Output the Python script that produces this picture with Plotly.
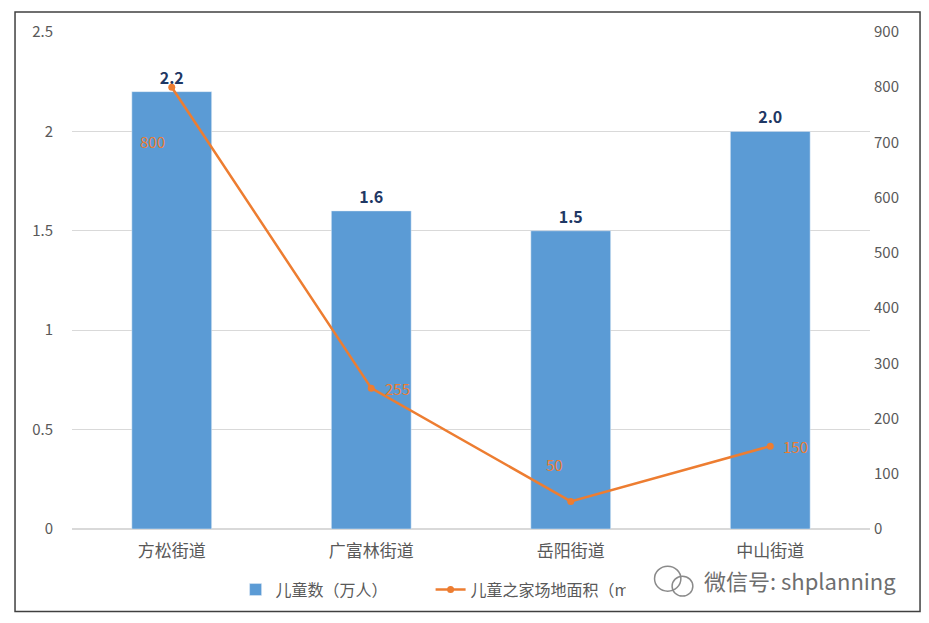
import plotly.graph_objects as go

streets = ['方松街道', '广富林街道', '岳阳街道', '中山街道']
children = [2.2, 1.6, 1.5, 2.0]
area = [800, 255, 50, 150]
left_ticks = [0, 0.5, 1, 1.5, 2, 2.5]
right_ticks = [0, 100, 200, 300, 400, 500, 600, 700, 800, 900]

# label offsets for the line values, in pixels (placement only)
label_dx = [-19, 26, -16, 25]
label_dy = [-54, 0, 37, 0]

font = 'Noto Sans CJK SC'
grey = '#595959'
blue = '#5B9BD5'
orange = '#ED7D31'

fig = go.Figure()
fig.add_trace(go.Bar(
    x=streets, y=children, name='儿童数（万人）', width=0.4,
    marker=dict(color=blue),
    text=['%.1f' % v for v in children], textposition='outside',
    textfont=dict(color='#1F3864', size=16, family=font),
    texttemplate='<b>%{text}</b>', cliponaxis=False,
))
fig.add_trace(go.Scatter(
    x=streets, y=area, name='儿童之家场地面积（m²）', yaxis='y2',
    mode='lines+markers', line=dict(color=orange, width=2.5),
    marker=dict(color=orange, size=7),
    cliponaxis=False,
))

notes = [dict(text='微信号: shplanning', xref='paper', yref='paper', x=0.912, y=-0.102,
              xanchor='center', yanchor='middle', showarrow=False,
              font=dict(size=22, color='#6e6e6e', family=font))]
for s, v, dx, dy in zip(streets, area, label_dx, label_dy):
    notes.append(dict(x=s, y=v, xref='x', yref='y2', text=str(v), showarrow=False,
                      xshift=dx, yshift=dy, font=dict(size=15, color=orange, family=font)))

fig.update_layout(
    width=913, height=615,
    margin=dict(l=64, r=51, t=22, b=94),
    paper_bgcolor='white', plot_bgcolor='white',
    font=dict(family=font, color=grey, size=15),
    showlegend=True,
    legend=dict(orientation='h', x=0.205, xanchor='left', y=-0.122, yanchor='middle',
                font=dict(size=16, color=grey), traceorder='normal',
                bgcolor='rgba(0,0,0,0)', entrywidth=150),
    xaxis=dict(showline=False, ticks='', ticklabelstandoff=10,
               tickfont=dict(size=17, color=grey)),
    yaxis=dict(range=[0, 2.5], tickvals=left_ticks, ticktext=[str(t) for t in left_ticks],
               showgrid=True, gridcolor='#D9D9D9', gridwidth=1, zeroline=True,
               zerolinecolor='#D9D9D9', ticks='', ticklabelstandoff=18,
               tickfont=dict(size=15, color=grey)),
    yaxis2=dict(range=[0, 900], tickvals=right_ticks, overlaying='y', side='right',
                showgrid=False, zeroline=False, ticks='', ticklabelstandoff=3,
                tickfont=dict(size=15, color=grey)),
    shapes=[dict(type='rect', xref='paper', yref='paper', x0=-0.0714, x1=1.0627,
                 y0=-0.166, y1=1.040, line=dict(color='#404040', width=1.5)),
            dict(type='circle', xref='paper', yref='paper', x0=0.73, x1=0.763,
                 y0=-0.125, y1=-0.075, line=dict(color='#8a8a8a', width=1.5)),
            dict(type='circle', xref='paper', yref='paper', x0=0.752, x1=0.778,
                 y0=-0.135, y1=-0.095, line=dict(color='#8a8a8a', width=1.5))],
    annotations=notes,
)

fig.write_html('out.html')
